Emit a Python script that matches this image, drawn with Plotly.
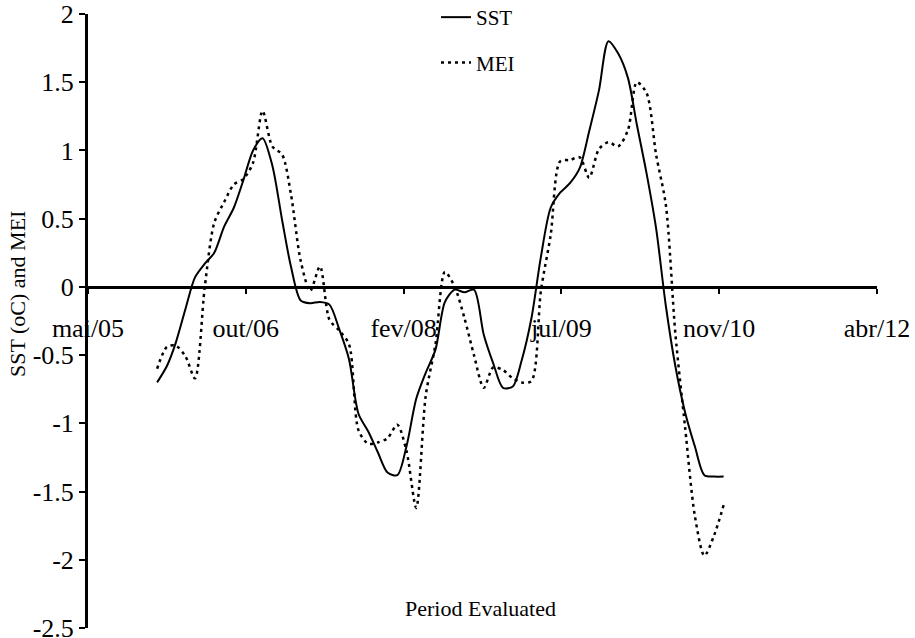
import pandas as pd
import plotly.graph_objects as go

# ---- data ----
months = pd.date_range("2006-01-01", "2010-12-01", freq="MS")

sst = [-0.70, -0.58, -0.41, -0.16, 0.07, 0.17, 0.25, 0.44, 0.58, 0.78,
       1.00, 1.09, 0.89, 0.49, 0.15, -0.10, -0.12, -0.11, -0.13, -0.31,
       -0.53, -0.93, -1.06, -1.21, -1.36, -1.38, -1.17, -0.82, -0.63, -0.46,
       -0.11, -0.02, -0.04, -0.02, -0.35, -0.56, -0.74, -0.73, -0.54, -0.23,
       0.22, 0.58, 0.69, 0.76, 0.87, 1.14, 1.44, 1.80, 1.71, 1.53,
       1.19, 0.83, 0.43, -0.14, -0.58, -0.92, -1.17, -1.38, -1.39, -1.39]

mei = [-0.60, -0.44, -0.43, -0.51, -0.67, 0.00, 0.47, 0.62, 0.75, 0.79,
       0.91, 1.29, 1.03, 0.97, 0.68, 0.19, -0.03, 0.15, -0.24, -0.32,
       -0.42, -1.05, -1.15, -1.14, -1.11, -1.01, -1.20, -1.62, -0.80, -0.42,
       0.11, 0.00, -0.23, -0.50, -0.74, -0.59, -0.61, -0.67, -0.70, -0.69,
       -0.03, 0.38, 0.92, 0.93, 0.95, 0.80, 1.01, 1.06, 1.03, 1.15,
       1.50, 1.42, 0.97, 0.60, -0.34, -1.03, -1.68, -1.97, -1.82, -1.60]

x_tick_labels = ["mai/05", "out/06", "fev/08", "jul/09", "nov/10", "abr/12"]
x_tick_start = "2005-05-27"
x_tick_step_days = 500

y_tick_values = [-2.5, -2, -1.5, -1, -0.5, 0, 0.5, 1, 1.5, 2]
y_tick_labels = ["-2.5", "-2", "-1.5", "-1", "-0.5", "0", "0.5", "1", "1.5", "2"]

x_tick_dates = [pd.Timestamp(x_tick_start) + pd.Timedelta(days=x_tick_step_days * k)
                for k in range(len(x_tick_labels))]

FONT = "Liberation Serif"
y_min, y_max = y_tick_values[0], y_tick_values[-1]

fig = go.Figure()
fig.add_trace(go.Scatter(
    x=months, y=sst, name="SST", mode="lines",
    line=dict(color="black", width=2, shape="spline", smoothing=0.8),
    legendgroup="sst"))
fig.add_trace(go.Scatter(
    x=months, y=mei, name="MEI", mode="lines",
    line=dict(color="black", width=2.5, dash="3px,4px", shape="spline", smoothing=0.8),
    legendgroup="mei"))

fig.update_layout(
    width=915, height=638,
    margin=dict(l=88, r=38, t=14, b=10, autoexpand=False),
    paper_bgcolor="white", plot_bgcolor="white",
    font=dict(family=FONT, color="black"),
    showlegend=True,
    legend=dict(
        x=(436 - 88) / 789, y=1 + 17 / 614, xanchor="left", yanchor="top",
        font=dict(family=FONT, size=21, color="black"),
        traceorder="grouped", tracegroupgap=15,
        bgcolor="rgba(0,0,0,0)",
    ),
    xaxis=dict(
        type="date",
        range=[x_tick_dates[0], x_tick_dates[-1]],
        tickmode="array", tickvals=x_tick_dates, ticktext=x_tick_labels,
        anchor="free", position=(0 - y_min) / (y_max - y_min),
        showline=True, linecolor="black", linewidth=3,
        ticks="outside", ticklen=5, tickwidth=2, tickcolor="black",
        tickangle=0, automargin=False,
        ticklabelstandoff=12, ticklabeloverflow="allow",
        tickfont=dict(family=FONT, size=26, color="black"),
        showgrid=False, zeroline=False,
    ),
    yaxis=dict(
        range=[y_min, y_max], automargin=False,
        tickmode="array", tickvals=y_tick_values, ticktext=y_tick_labels,
        showline=True, linecolor="black", linewidth=3,
        ticks="outside", ticklen=6, tickwidth=2, tickcolor="black",
        ticklabeloverflow="allow",
        tickfont=dict(family=FONT, size=26, color="black"),
        showgrid=False, zeroline=False,
    ),
    annotations=[
        dict(text="SST (oC) and MEI", xref="paper", yref="paper",
             x=(17 - 88) / 789, y=(628 - 294) / 614, textangle=-90,
             showarrow=False, font=dict(family=FONT, size=22, color="black"),
             xanchor="center", yanchor="middle"),
        dict(text="Period Evaluated", xref="paper", yref="paper",
             x=(480 - 88) / 789, y=(628 - 608) / 614,
             showarrow=False, font=dict(family=FONT, size=22, color="black"),
             xanchor="center", yanchor="middle"),
    ],
)

fig.write_html("out.html",
               config={"displayModeBar": False},
               post_script="document.body.style.margin='0';document.body.style.overflow='hidden';")
